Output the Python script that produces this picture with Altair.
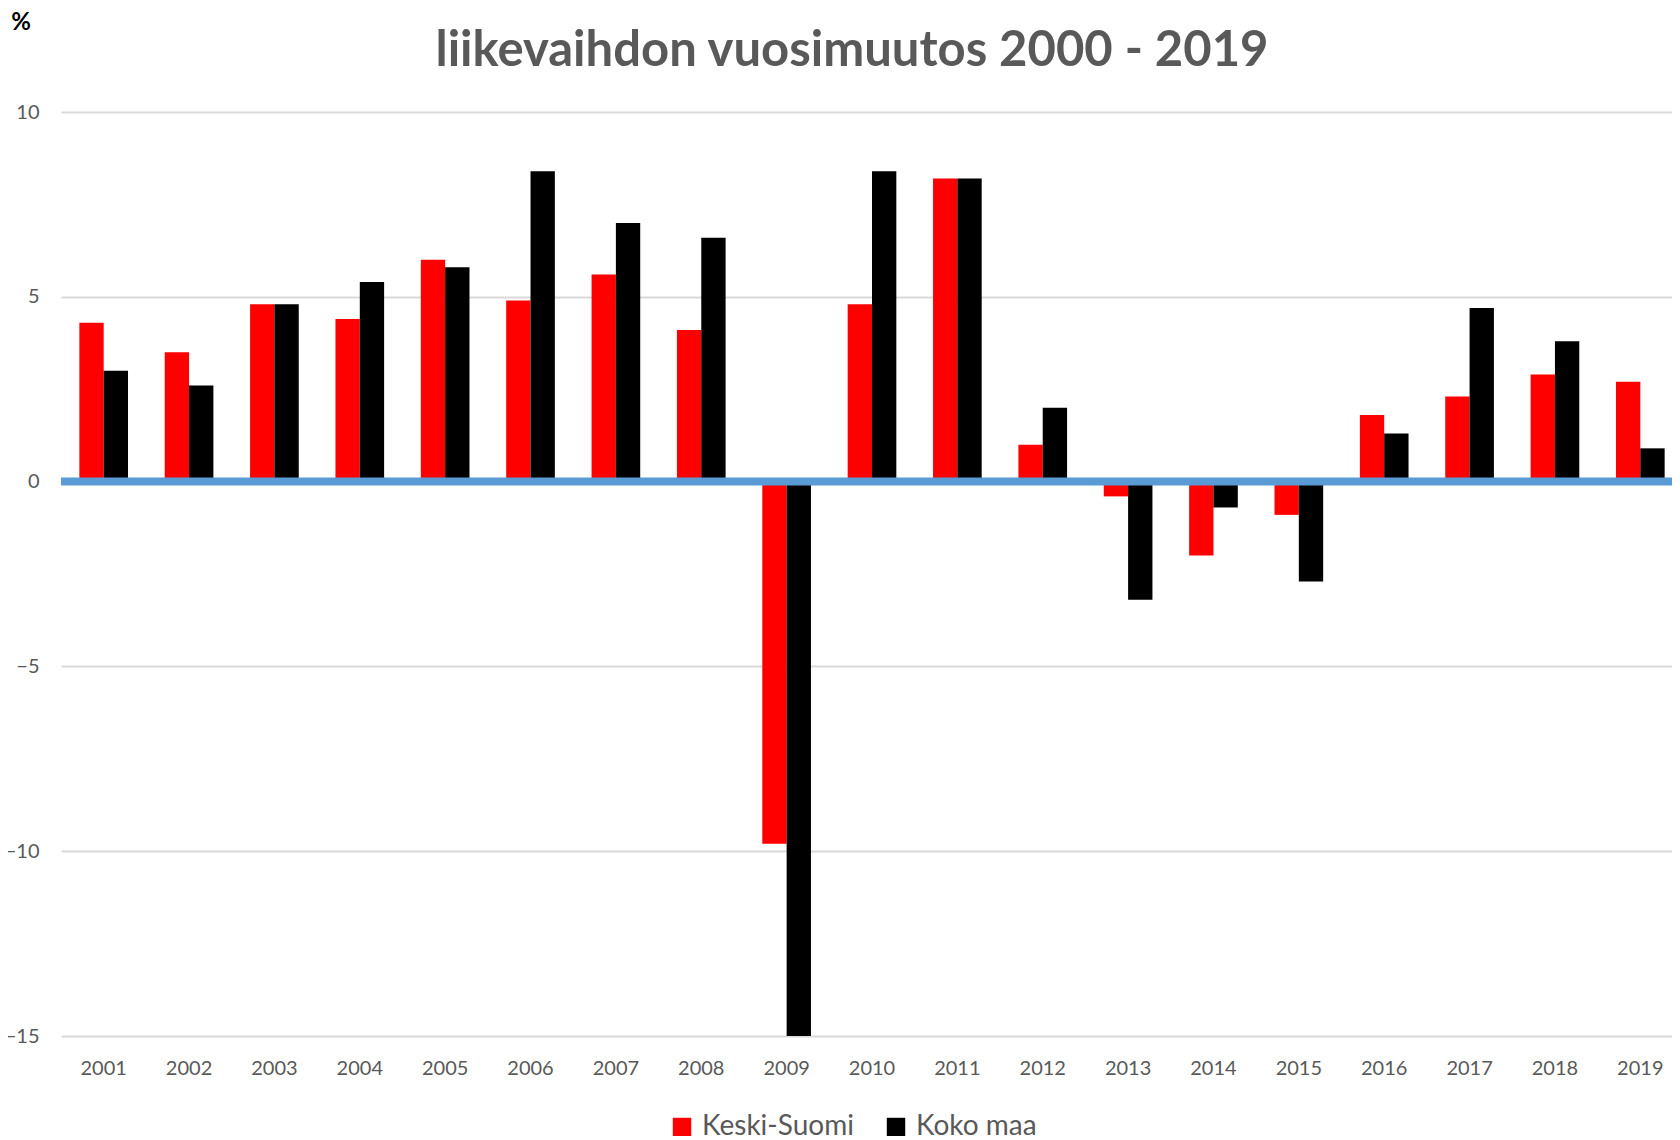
import altair as alt
import pandas as pd

years = [str(y) for y in range(2001, 2020)]
keski_suomi = [4.3, 3.5, 4.8, 4.4, 6.0, 4.9, 5.6, 4.1, -9.8, 4.8, 8.2, 1.0, -0.4, -2.0, -0.9, 1.8, 2.3, 2.9, 2.7]
koko_maa = [3.0, 2.6, 4.8, 5.4, 5.8, 8.4, 7.0, 6.6, -15.0, 8.4, 8.2, 2.0, -3.2, -0.7, -2.7, 1.3, 4.7, 3.8, 0.9]
series_names = ["Keski-Suomi", "Koko maa"]
series_colors = ["#FF0000", "#000000"]
y_ticks = [-15, -10, -5, 0, 5, 10]
unit_label = "%"
title_text = "liikevaihdon vuosimuutos 2000 - 2019"

rows = []
for i, y in enumerate(years):
    rows.append({"vuosi": y, "sarja": series_names[0], "arvo": keski_suomi[i]})
    rows.append({"vuosi": y, "sarja": series_names[1], "arvo": koko_maa[i]})
df = pd.DataFrame(rows)

FONT = "Lato"
GREY = "#595959"

bars = alt.Chart(df).mark_bar().encode(
    x=alt.X("vuosi:N", sort=years,
            scale=alt.Scale(paddingInner=0.43, paddingOuter=0.215, range=[0, 1622]),
            axis=alt.Axis(title=None, labelAngle=0, domain=False, ticks=False,
                          labelFontSize=20, labelColor=GREY, labelFont=FONT,
                          labelPadding=22, grid=False)),
    xOffset=alt.XOffset("sarja:N", sort=series_names,
                        scale=alt.Scale(paddingInner=0, paddingOuter=0)),
    y=alt.Y("arvo:Q",
            scale=alt.Scale(domain=[-15, 10], nice=False, zero=False),
            axis=alt.Axis(values=y_ticks, title=None,
                          domain=False, ticks=False, labelFontSize=20,
                          labelColor=GREY, labelFont=FONT, labelPadding=22,
                          grid=True, gridColor="#D9D9D9", gridWidth=2)),
    color=alt.Color("sarja:N", sort=series_names,
                    scale=alt.Scale(domain=series_names, range=series_colors),
                    legend=alt.Legend(title=None, orient="none", direction="horizontal",
                                      legendX=607, legendY=1001,
                                      symbolType="square", symbolSize=340,
                                      symbolStrokeWidth=0,
                                      labelFontSize=28, labelFont=FONT, labelColor=GREY,
                                      columnPadding=28, labelOffset=6)),
)

zero = alt.Chart(pd.DataFrame({"y": [0]})).mark_rule(color="#5B9BD5", strokeWidth=8).encode(
    y="y:Q"
)

unit = alt.Chart(pd.DataFrame({"t": [unit_label]})).mark_text(
    font=FONT, fontSize=24, fontWeight="bold", color="#000000",
    align="center", baseline="middle"
).encode(
    text="t:N", x=alt.value(-40), y=alt.value(-89)
)

title = alt.Chart(pd.DataFrame({"t": [title_text]})).mark_text(
    font=FONT, fontSize=49, fontWeight="bold", color=GREY,
    align="center", baseline="alphabetic"
).encode(
    text="t:N", x=alt.value(791), y=alt.value(-46)
)

chart = alt.layer(bars, zero, unit, title).properties(
    width=1611,
    height=924,
    autosize=alt.AutoSizeParams(type="none"),
    padding={"left": 53, "top": 104, "right": 0, "bottom": 100},
).configure_view(stroke=None)

chart.save("out.html", embed_options={"renderer": "svg", "actions": False})
